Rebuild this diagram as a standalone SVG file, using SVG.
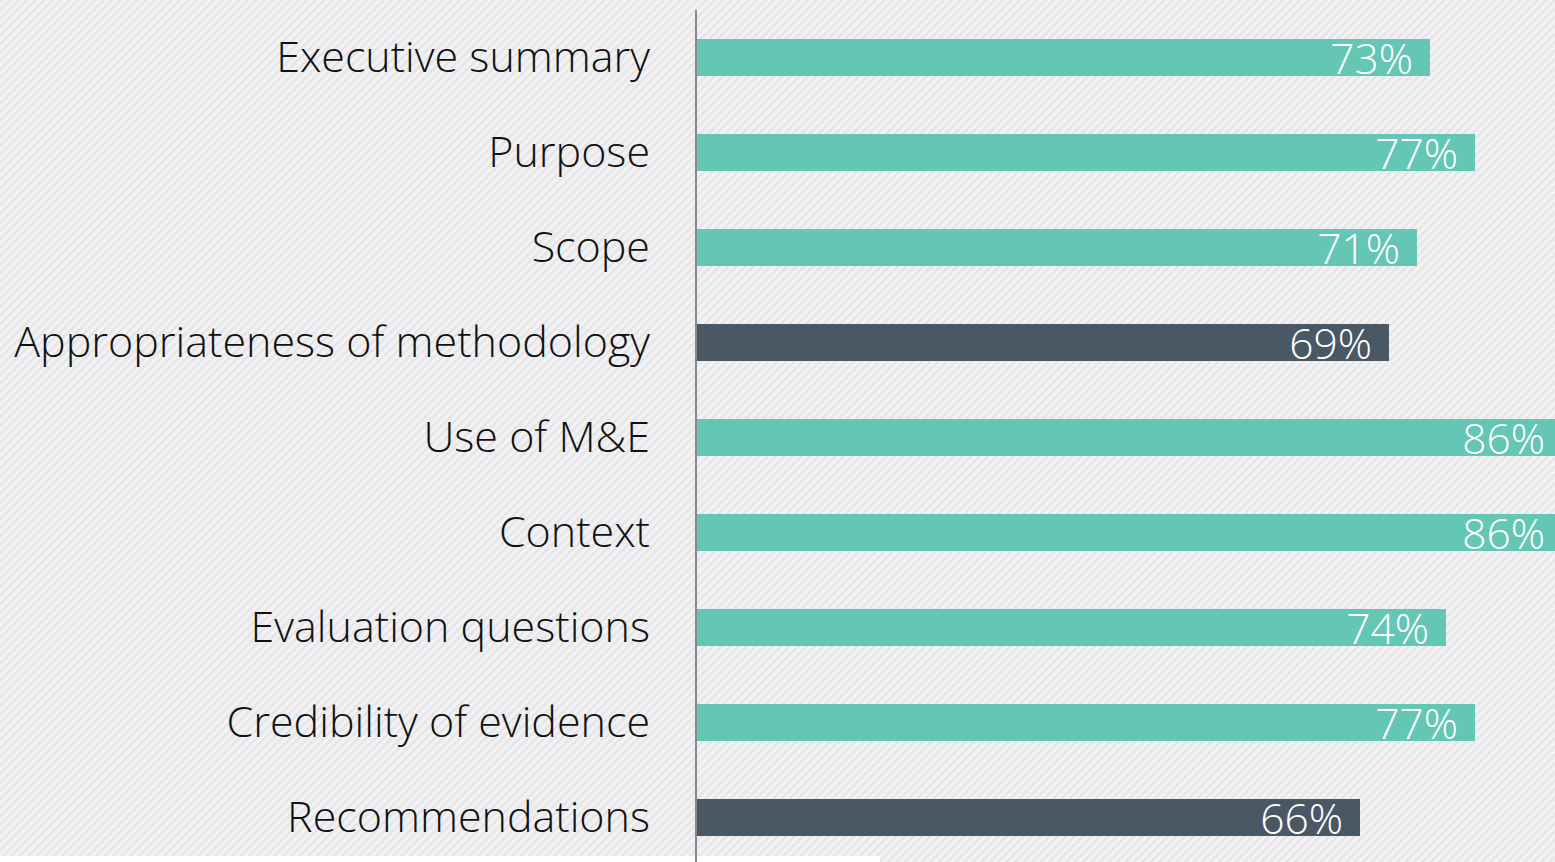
<svg xmlns="http://www.w3.org/2000/svg" width="1555" height="862" viewBox="0 0 1555 862">
<defs>
<pattern id="stripes" width="6" height="6" patternUnits="userSpaceOnUse" patternTransform="rotate(45)">
<rect width="6" height="6" fill="#f2f2f4"/>
<rect width="2.5" height="6" fill="#e5e5e8"/>
</pattern>
<style>
.lbl{font-family:"Open Sans","Liberation Sans",sans-serif;font-size:43px;font-weight:300;fill:#111;text-anchor:end}
.val{font-family:"Open Sans","Liberation Sans",sans-serif;font-size:42.5px;font-weight:300;fill:#ffffff;text-anchor:end}
.teal{fill:#64c6b4}
.dark{fill:#4a5866}
</style>
</defs>
<rect width="1555" height="862" fill="url(#stripes)"/>
<rect x="0" y="856" width="880" height="6" fill="#ffffff"/>
<g id="axis"><line x1="696" y1="10" x2="696" y2="862" stroke="#888888" stroke-width="2"/></g>
<g id="row1"><text class="lbl" x="650" y="72">Executive summary</text><rect class="teal" x="697" y="39" width="733" height="37"/><text class="val" x="1413" y="74">73%</text></g>
<g id="row2"><text class="lbl" x="650" y="167">Purpose</text><rect class="teal" x="697" y="134" width="778" height="37"/><text class="val" x="1458" y="169">77%</text></g>
<g id="row3"><text class="lbl" x="650" y="262">Scope</text><rect class="teal" x="697" y="229" width="720" height="37"/><text class="val" x="1400" y="264">71%</text></g>
<g id="row4"><text class="lbl" x="650" y="357">Appropriateness of methodology</text><rect class="dark" x="697" y="324" width="692" height="37"/><text class="val" x="1372" y="359">69%</text></g>
<g id="row5"><text class="lbl" x="650" y="452">Use of M&amp;E</text><rect class="teal" x="697" y="419" width="858" height="37"/><text class="val" x="1545" y="454">86%</text></g>
<g id="row6"><text class="lbl" x="650" y="547">Context</text><rect class="teal" x="697" y="514" width="858" height="37"/><text class="val" x="1545" y="549">86%</text></g>
<g id="row7"><text class="lbl" x="650" y="642">Evaluation questions</text><rect class="teal" x="697" y="609" width="749" height="37"/><text class="val" x="1429" y="644">74%</text></g>
<g id="row8"><text class="lbl" x="650" y="737">Credibility of evidence</text><rect class="teal" x="697" y="704" width="778" height="37"/><text class="val" x="1458" y="739">77%</text></g>
<g id="row9"><text class="lbl" x="650" y="832">Recommendations</text><rect class="dark" x="697" y="799" width="663" height="37"/><text class="val" x="1343" y="834">66%</text></g>
</svg>
